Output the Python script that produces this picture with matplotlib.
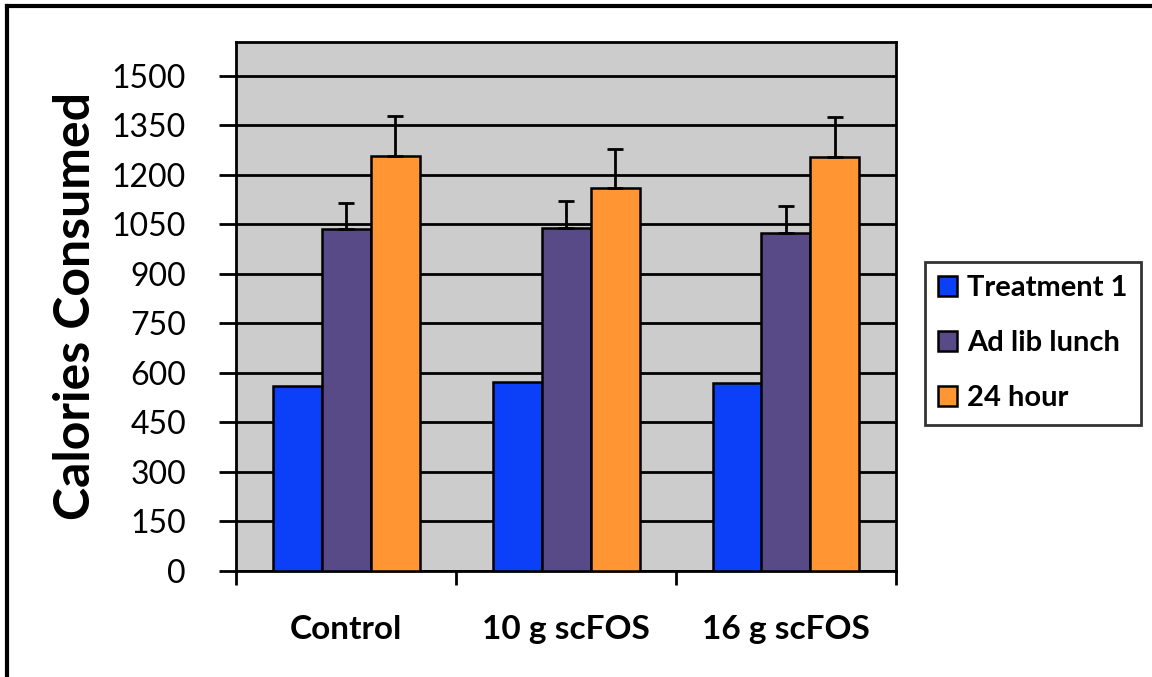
import matplotlib
matplotlib.use("Agg")
import matplotlib.pyplot as plt
import numpy as np

categories = ["Control", "10 g scFOS", "16 g scFOS"]
series_names = ["Treatment 1", "Ad lib lunch", "24 hour"]
treatment1 = [562, 572, 570]
adlib = [1035, 1040, 1024]
hour24 = [1258, 1162, 1256]
adlib_err = [80, 80, 82]
hour24_err = [120, 116, 120]
yticks = [0, 150, 300, 450, 600, 750, 900, 1050, 1200, 1350, 1500]

colors = ["#0B3FF8", "#574A87", "#FF9533"]

plt.rcParams['font.family'] = ['Lato', 'DejaVu Sans']

fig = plt.figure(figsize=(11.52, 6.77), dpi=100)
ax = fig.add_axes([236/1152, 1-571/677, (896-236)/1152, (571-42)/677])
ax.set_facecolor("#CCCCCC")

x = np.arange(len(categories))
w = 49/220
data = [treatment1, adlib, hour24]
errs = [None, adlib_err, hour24_err]
for i, (vals, c, name) in enumerate(zip(data, colors, series_names)):
    pos = x + (i-1)*w
    ax.bar(pos, vals, width=w, color=c, edgecolor="black", linewidth=1.8, label=name, zorder=3)
    if errs[i] is not None:
        ax.errorbar(pos, vals, yerr=[np.zeros(3), errs[i]], fmt="none", ecolor="black",
                    elinewidth=2, capsize=6, capthick=2, zorder=4)

ax.set_ylim(0, 1603)
ax.set_xlim(-0.5, 2.5)
ax.set_yticks(yticks)
ax.set_yticklabels([str(t) for t in yticks], fontsize=23)
ax.yaxis.grid(True, color="black", linewidth=2, zorder=1)
ax.set_axisbelow(True)
ax.set_xticks(x)
ax.set_xticklabels(categories, fontsize=24, fontweight="bold")
ax.tick_params(axis="x", which="major", length=0, pad=32)
ax.set_xticks([-0.5, 0.5, 1.5, 2.5], minor=True)
ax.tick_params(axis="x", which="minor", length=10, width=2, direction="out")
ax.tick_params(axis="y", length=12, width=2, direction="out", pad=24)
for s in ax.spines.values():
    s.set_linewidth(2)

ax.set_ylabel("Calories Consumed", fontsize=36, fontweight="bold", labelpad=10)

leg = ax.legend(loc="upper left", bbox_to_anchor=(925/1152, 1-262/677), bbox_transform=fig.transFigure,
                borderaxespad=0, frameon=True, fancybox=False, edgecolor="black",
                prop={'weight': 'bold', 'size': 21}, handlelength=0.65, handleheight=0.65,
                handletextpad=0.35, labelspacing=1.0, borderpad=0.45)
leg.get_frame().set_linewidth(2)

# figure border lines (top and left)
fig.add_artist(plt.Line2D([7/1152, 1], [1-6/677, 1-6/677], color="black", linewidth=3, transform=fig.transFigure))
fig.add_artist(plt.Line2D([7/1152, 7/1152], [0, 1-6/677], color="black", linewidth=3, transform=fig.transFigure))

fig.savefig("out.png", dpi=100)
